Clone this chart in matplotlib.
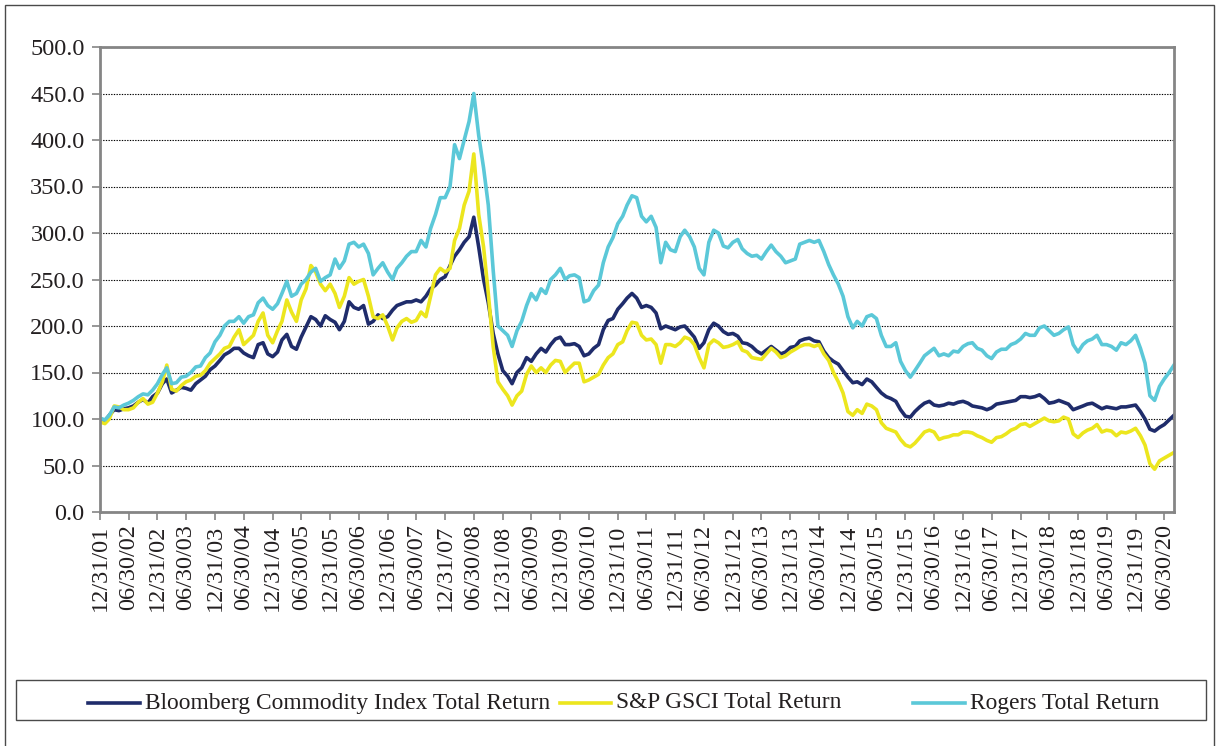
import matplotlib
matplotlib.use("Agg")
import matplotlib.pyplot as plt
from matplotlib.lines import Line2D
from matplotlib.patches import Rectangle
import pandas as pd

# Month-end index levels, 12/31/2001 = 100
first_month_end = "2001-12-31"

bcom_tr = [
    100,
    98, 104, 110, 109, 111, 112, 114, 118, 121, 117, 124, 128,   # 2002
    138, 143, 128, 131, 134, 133, 131, 138, 142, 146, 153, 157,  # 2003
    163, 169, 172, 176, 176, 171, 168, 166, 180, 182, 170, 167,  # 2004
    172, 185, 191, 178, 175, 188, 199, 210, 207, 200, 211, 207,  # 2005
    204, 196, 205, 226, 220, 218, 222, 202, 205, 212, 208, 210,  # 2006
    217, 222, 224, 226, 226, 228, 226, 232, 240, 244, 250, 253,  # 2007
    265, 275, 282, 290, 296, 317, 285, 250, 225, 192, 170, 152,  # 2008
    146, 138, 150, 155, 166, 162, 170, 176, 172, 180, 186, 188,  # 2009
    180, 180, 181, 178, 168, 170, 176, 180, 196, 206, 208, 218,  # 2010
    224, 230, 235, 230, 220, 222, 220, 214, 197, 200, 198, 196,  # 2011
    199, 200, 194, 188, 176, 182, 196, 203, 200, 194, 191, 192,  # 2012
    189, 182, 181, 178, 173, 170, 174, 178, 174, 170, 172, 177,  # 2013
    178, 184, 186, 187, 184, 183, 173, 166, 162, 159, 152, 145,  # 2014
    139, 140, 137, 143, 140, 134, 128, 124, 122, 119, 110, 103,  # 2015
    102, 108, 113, 117, 119, 115, 114, 115, 117, 116, 118, 119,  # 2016
    117, 114, 113, 112, 110, 112, 116, 117, 118, 119, 120, 124,  # 2017
    124, 123, 124, 126, 122, 117, 118, 120, 118, 116, 110, 112,  # 2018
    114, 116, 117, 114, 111, 113, 112, 111, 113, 113, 114, 115,  # 2019
    108, 100, 89, 87, 91, 94, 99, 104,                           # 2020
]

gsci_tr = [
    97,
    95, 100, 114, 113, 110, 110, 112, 118, 122, 116, 118, 128,   # 2002
    140, 158, 132, 130, 136, 140, 142, 146, 147, 152, 160, 165,  # 2003
    170, 176, 178, 188, 196, 180, 185, 190, 205, 214, 190, 182,  # 2004
    195, 205, 228, 215, 205, 228, 240, 265, 258, 245, 238, 245,  # 2005
    235, 220, 232, 252, 245, 248, 250, 232, 210, 208, 212, 200,  # 2006
    185, 198, 205, 208, 204, 206, 215, 210, 232, 255, 262, 258,  # 2007
    262, 292, 305, 330, 345, 385, 320, 285, 235, 178, 140, 132,  # 2008
    125, 115, 125, 130, 148, 157, 150, 155, 150, 158, 163, 162,  # 2009
    150, 155, 160, 160, 140, 142, 145, 148, 158, 166, 170, 180,  # 2010
    183, 195, 204, 203, 190, 185, 186, 180, 160, 180, 180, 178,  # 2011
    182, 188, 186, 180, 166, 155, 180, 185, 182, 177, 178, 180,  # 2012
    183, 174, 172, 166, 165, 164, 170, 176, 172, 166, 168, 172,  # 2013
    175, 178, 180, 180, 178, 180, 170, 163, 150, 140, 128, 108,  # 2014
    104, 110, 106, 116, 114, 110, 96, 90, 88, 86, 78, 72,        # 2015
    70, 74, 80, 86, 88, 86, 78, 80, 81, 83, 83, 86,              # 2016
    86, 85, 82, 80, 77, 75, 80, 81, 84, 88, 90, 94,              # 2017
    95, 92, 95, 98, 101, 98, 97, 98, 102, 100, 84, 80,           # 2018
    85, 88, 90, 94, 86, 88, 87, 82, 86, 85, 87, 90,              # 2019
    82, 72, 52, 46, 55, 58, 61, 64,                              # 2020
]

rogers_tr = [
    101,
    99, 104, 113, 112, 115, 117, 120, 124, 127, 126, 131, 138,   # 2002
    148, 155, 138, 139, 145, 146, 150, 156, 157, 166, 171, 183,  # 2003
    190, 200, 205, 205, 210, 203, 210, 212, 225, 230, 222, 218,  # 2004
    224, 235, 248, 232, 235, 245, 250, 258, 262, 248, 252, 255,  # 2005
    272, 262, 270, 288, 290, 285, 288, 278, 255, 262, 268, 258,  # 2006
    250, 262, 268, 275, 280, 280, 292, 285, 305, 320, 338, 338,  # 2007
    350, 395, 380, 400, 420, 450, 405, 370, 330, 260, 200, 195,  # 2008
    190, 178, 195, 205, 222, 235, 228, 240, 235, 250, 255, 262,  # 2009
    250, 254, 255, 252, 226, 228, 238, 244, 268, 285, 295, 310,  # 2010
    318, 330, 340, 338, 318, 312, 318, 306, 268, 290, 282, 280,  # 2011
    296, 303, 296, 285, 262, 255, 290, 303, 300, 286, 284, 290,  # 2012
    293, 283, 278, 275, 276, 272, 280, 287, 280, 275, 268, 270,  # 2013
    272, 288, 290, 292, 290, 292, 280, 266, 255, 245, 232, 210,  # 2014
    198, 205, 200, 210, 212, 208, 190, 178, 178, 182, 162, 152,  # 2015
    145, 152, 160, 168, 172, 176, 168, 170, 168, 173, 172, 178,  # 2016
    181, 182, 176, 174, 168, 165, 172, 175, 175, 180, 182, 186,  # 2017
    192, 190, 190, 198, 200, 195, 190, 192, 196, 199, 180, 172,  # 2018
    180, 184, 186, 190, 180, 180, 178, 174, 182, 180, 184, 190,  # 2019
    176, 160, 125, 120, 135, 143, 150, 158,                      # 2020
]

series_labels = [
    "Bloomberg Commodity Index Total Return",
    "S&P GSCI Total Return",
    "Rogers Total Return",
]
series_colors = ["#1f2c6b", "#ece61e", "#5bc8d8"]

tick_first, tick_last = "2001-12-31", "2020-06-30"
y_ticks = [0, 50, 100, 150, 200, 250, 300, 350, 400, 450, 500]

plt.rcParams["font.family"] = ["Liberation Serif", "DejaVu Serif"]
text_color = "#231f20"
frame_color = "#858585"
TICK_FS = 17.5
LEGEND_FS = 16.8

W, H = 1216, 746
fig = plt.figure(figsize=(W / 100, H / 100), dpi=100)
fig.patch.set_facecolor("white")

ax = fig.add_axes([100 / W, 1 - 512 / H, 1074 / W, 465 / H])

dates = pd.date_range(first_month_end, periods=len(bcom_tr), freq="ME")
for values, color in zip([bcom_tr, gsci_tr, rogers_tr], series_colors):
    ax.plot(dates, values, color=color, lw=2.6, solid_joinstyle="round")

ax.set_xlim(dates[0], dates[-1])
ax.set_ylim(0, 500)
ax.set_yticks(y_ticks)
ax.set_yticklabels([f"{v:.1f}" for v in y_ticks])

tick_dates = pd.date_range(tick_first, tick_last, freq="6ME")
ax.set_xticks(tick_dates)
ax.set_xticklabels([d.strftime("%m/%d/%y") for d in tick_dates],
                   rotation=90, ha="center", va="top")

ax.yaxis.grid(True, color="black", lw=0.8, linestyle=(0, (1.2, 1.2)))
ax.set_axisbelow(True)

for side in ["left", "right", "top", "bottom"]:
    ax.spines[side].set_color(frame_color)
    ax.spines[side].set_linewidth(2.0)

ax.tick_params(axis="both", direction="out", length=6, width=1.2,
               color=frame_color, labelcolor=text_color, labelsize=TICK_FS)
ax.tick_params(axis="y", pad=5)
ax.tick_params(axis="x", pad=3)

# Outer chart frame
fig.patches.append(Rectangle((5 / W, -0.02), 1209 / W, 1 - 5 / H + 0.02,
                             transform=fig.transFigure, fill=False,
                             ec="#4a4a4a", lw=1.0))

# Legend box along the bottom
fig.patches.append(Rectangle((16 / W, 1 - 720 / H), 1190 / W, 40 / H,
                             transform=fig.transFigure, fill=False,
                             ec="#4a4a4a", lw=1.0))
legend_y = 1 - 703 / H
handle_spans = [(88, 140), (560, 611), (913, 965)]
for (x0, x1), color, label in zip(handle_spans, series_colors, series_labels):
    fig.lines.append(Line2D([x0 / W, x1 / W], [legend_y, legend_y],
                            transform=fig.transFigure, color=color, lw=2.6))
    fig.text((x1 + 5) / W, legend_y, label, ha="left", va="center",
             fontsize=LEGEND_FS, color=text_color)

fig.savefig("out.png", dpi=100)
